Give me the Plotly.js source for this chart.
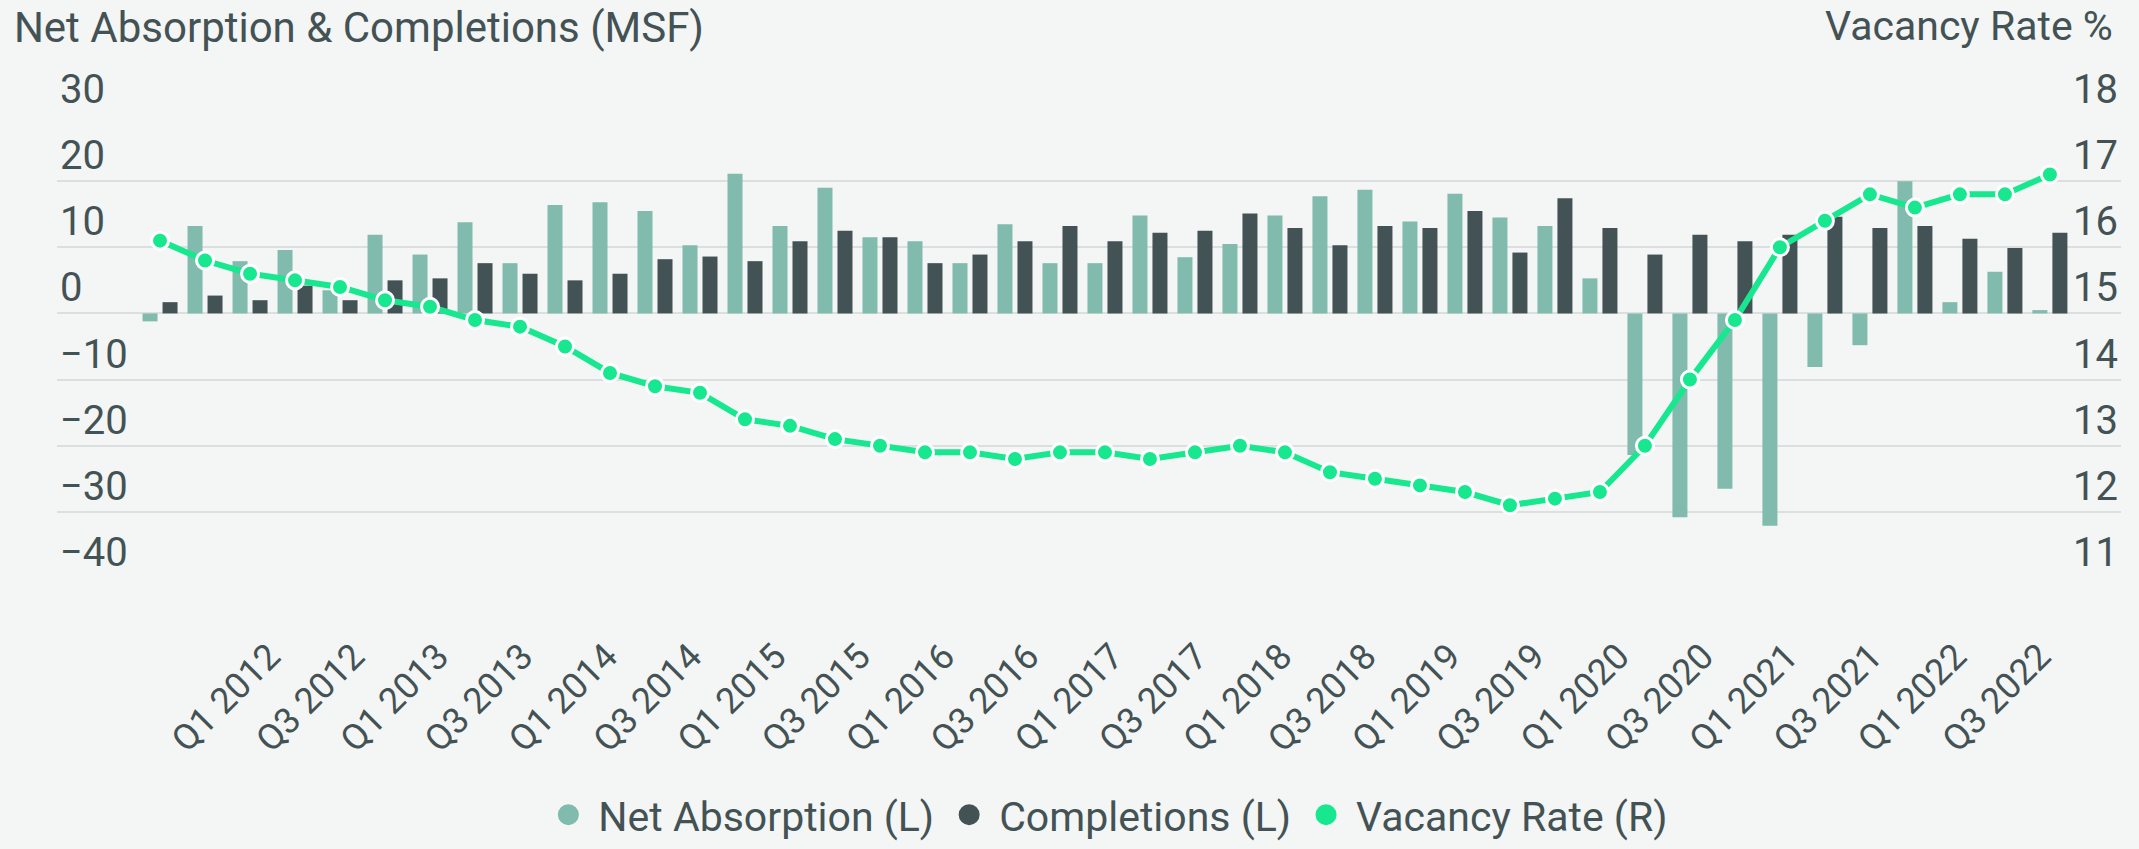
<!DOCTYPE html>
<html>
<head>
<meta charset="utf-8">
<script src="https://cdn.plot.ly/plotly-3.0.1.min.js"></script>
<style>html,body{margin:0;padding:0;background:#F4F5F5;}#chart{width:2139px;height:849px;}</style>
</head>
<body>
<div id="chart"></div>
<script>
const quarters = [
  'Q1 2012','Q2 2012','Q3 2012','Q4 2012',
  'Q1 2013','Q2 2013','Q3 2013','Q4 2013',
  'Q1 2014','Q2 2014','Q3 2014','Q4 2014',
  'Q1 2015','Q2 2015','Q3 2015','Q4 2015',
  'Q1 2016','Q2 2016','Q3 2016','Q4 2016',
  'Q1 2017','Q2 2017','Q3 2017','Q4 2017',
  'Q1 2018','Q2 2018','Q3 2018','Q4 2018',
  'Q1 2019','Q2 2019','Q3 2019','Q4 2019',
  'Q1 2020','Q2 2020','Q3 2020','Q4 2020',
  'Q1 2021','Q2 2021','Q3 2021','Q4 2021',
  'Q1 2022','Q2 2022','Q3 2022'
];

const netAbsorption = [
  -1.2, 13.2, 7.9, 9.6, 3.5, 11.9, 8.9, 13.8, 7.6, 16.4,
  16.8, 15.5, 10.3, 21.1, 13.2, 19.0, 11.5, 10.9, 7.6, 13.5,
  7.6, 7.6, 14.8, 8.5, 10.5, 14.8, 17.7, 18.7, 13.9, 18.1,
  14.5, 13.2, 5.3, -21.4, -30.8, -26.5, -32.1, -8.1, -4.8, 20.0,
  1.7, 6.3, 0.5
];

const completions = [
  1.7, 2.7, 2.0, 4.2, 2.0, 5.0, 5.3, 7.6, 6.0, 5.0,
  6.0, 8.2, 8.6, 7.9, 10.9, 12.5, 11.5, 7.6, 8.9, 10.9,
  13.2, 10.9, 12.2, 12.5, 15.1, 12.9, 10.3, 13.2, 12.9, 15.5,
  9.2, 17.4, 12.9, 8.9, 11.9, 10.9, 11.9, 14.6, 12.9, 13.2,
  11.3, 9.9, 12.2
];

const vacancyRate = [
  16.1, 15.8, 15.6, 15.5, 15.4, 15.2, 15.1, 14.9, 14.8, 14.5,
  14.1, 13.9, 13.8, 13.4, 13.3, 13.1, 13.0, 12.9, 12.9, 12.8,
  12.9, 12.9, 12.8, 12.9, 13.0, 12.9, 12.6, 12.5, 12.4, 12.3,
  12.1, 12.2, 12.3, 13.0, 14.0, 14.9, 16.0, 16.4, 16.8, 16.6,
  16.8, 16.8, 17.1
];

const tickLabels = [
  'Q1 2012','Q3 2012','Q1 2013','Q3 2013','Q1 2014','Q3 2014',
  'Q1 2015','Q3 2015','Q1 2016','Q3 2016','Q1 2017','Q3 2017',
  'Q1 2018','Q3 2018','Q1 2019','Q3 2019','Q1 2020','Q3 2020',
  'Q1 2021','Q3 2021','Q1 2022','Q3 2022'
];

const seriesNames = ['Net Absorption (L)', 'Completions (L)', 'Vacancy Rate (R)'];

const C_NET = '#80BBAD';
const C_COMP = '#435254';
const C_VAC = '#17E88F';
const C_TEXT = '#435254';
const C_BG = '#F4F5F5';
const C_GRID = '#DCDFDF';
const FONT = 'Roboto, "Open Sans", sans-serif';

const traces = [
  {
    type: 'bar', name: seriesNames[0], x: quarters, y: netAbsorption,
    marker: {color: C_NET}, showlegend: false, hoverinfo: 'x+y'
  },
  {
    type: 'bar', name: seriesNames[1], x: quarters, y: completions,
    marker: {color: C_COMP}, showlegend: false, hoverinfo: 'x+y'
  },
  {
    type: 'scatter', mode: 'lines+markers', name: seriesNames[2],
    x: quarters, y: vacancyRate, yaxis: 'y2', showlegend: false,
    line: {color: C_VAC, width: 6},
    marker: {color: C_VAC, size: 17, line: {color: '#FFFFFF', width: 3}}
  },
  // legend entries (circle symbols, as in the reference legend)
  {
    type: 'scatter', mode: 'markers', name: seriesNames[0], x: [null], y: [null],
    xaxis: 'x2', marker: {color: C_NET, size: 16, line: {color: C_NET, width: 5}}, hoverinfo: 'skip'
  },
  {
    type: 'scatter', mode: 'markers', name: seriesNames[1], x: [null], y: [null],
    xaxis: 'x2', marker: {color: C_COMP, size: 16, line: {color: C_COMP, width: 5}}, hoverinfo: 'skip'
  },
  {
    type: 'scatter', mode: 'markers', name: seriesNames[2], x: [null], y: [null],
    xaxis: 'x2', marker: {color: C_VAC, size: 16, line: {color: C_VAC, width: 5}}, hoverinfo: 'skip'
  }
];

const layout = {
  width: 2139, height: 849,
  paper_bgcolor: C_BG, plot_bgcolor: C_BG,
  font: {family: FONT, color: C_TEXT},
  margin: {l: 57, r: 18, t: 114, b: 270, pad: 0, autoexpand: false},
  barmode: 'group', bargap: 0.111, bargroupgap: 0.25,
  title: {
    text: 'Net Absorption & Completions (MSF)',
    xref: 'container', yref: 'container',
    x: 0.0065, xanchor: 'left', y: 0.968, yanchor: 'middle',
    font: {family: FONT, size: 42, color: C_TEXT}
  },
  annotations: [{
    text: 'Vacancy Rate %', xref: 'paper', yref: 'paper',
    x: 0.997, xanchor: 'right', y: 1.19, yanchor: 'middle',
    showarrow: false, font: {family: FONT, size: 41, color: C_TEXT}
  }],
  xaxis: {
    type: 'category', range: [-2.29, 43.58],
    showticklabels: false, showgrid: false, zeroline: false, showline: false, ticks: ''
  },
  xaxis2: {
    overlaying: 'x', anchor: 'y', side: 'bottom', type: 'linear',
    range: [-2.52, 21.96],
    tickmode: 'array', tickvals: tickLabels.map((_, i) => i), ticktext: tickLabels,
    tickangle: -45, tickfont: {family: FONT, size: 36, color: C_TEXT},
    ticklabelstandoff: 48,
    showgrid: false, zeroline: false, showline: false, ticks: ''
  },
  yaxis: {
    range: [-40.15, 30.15], tickmode: 'linear', tick0: 0, dtick: 10,
    showgrid: true, gridcolor: C_GRID, gridwidth: 2,
    zeroline: false, showline: false, ticks: '',
    ticklabelposition: 'inside', ticklabelshift: -26, ticklabeloverflow: 'allow',
    tickfont: {family: FONT, size: 40, color: C_TEXT}
  },
  yaxis2: {
    overlaying: 'y', side: 'right', range: [10.985, 18.015],
    tickmode: 'linear', tick0: 11, dtick: 1,
    showgrid: false, zeroline: false, showline: false, ticks: '',
    ticklabelposition: 'inside', ticklabelshift: -26, ticklabeloverflow: 'allow',
    tickfont: {family: FONT, size: 40, color: C_TEXT}
  },
  legend: {
    orientation: 'h', xref: 'container', yref: 'container',
    xanchor: 'center', x: 0.517, yanchor: 'middle', y: 0.04,
    font: {family: FONT, size: 41, color: C_TEXT},
    bgcolor: 'rgba(0,0,0,0)', itemwidth: 50, traceorder: 'normal'
  },
  showlegend: true
};

Plotly.newPlot('chart', traces, layout, {displayModeBar: false, staticPlot: true});
</script>
</body>
</html>
